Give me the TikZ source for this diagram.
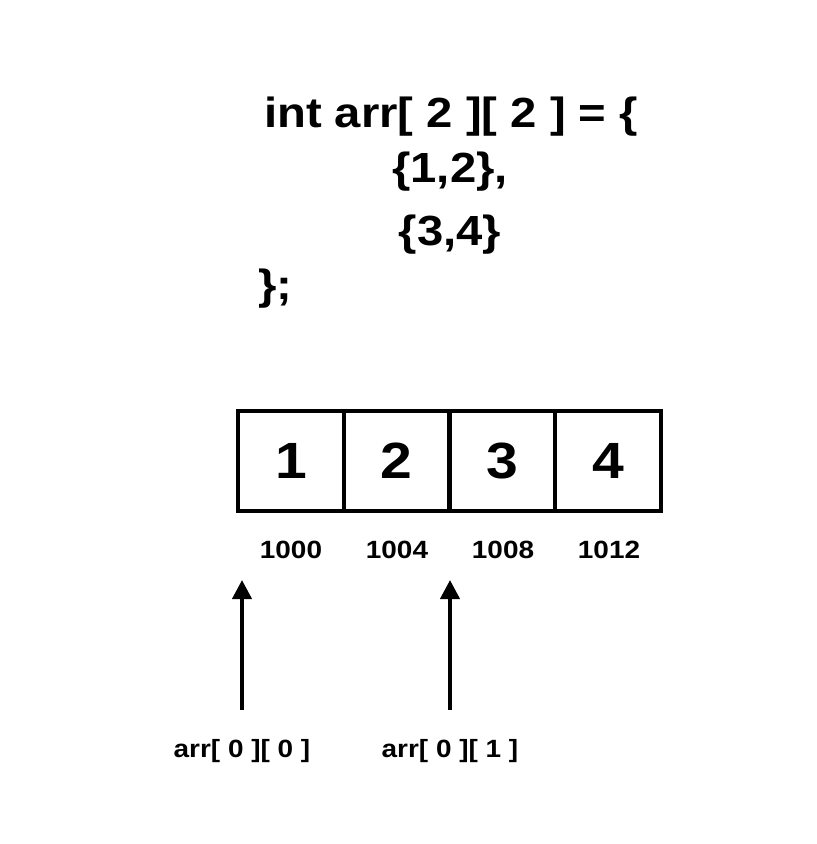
\documentclass[tikz,border=0pt]{standalone}
\usepackage{fontspec}
\newfontfamily\diagfont[FakeStretch=1.12]{Liberation Sans}
\usetikzlibrary{arrows.meta}

\begin{document}
\begin{tikzpicture}[
    x=0.02cm, y=-0.02cm,
    code/.style={font=\diagfont\bfseries\fontsize{24}{28}\selectfont, inner sep=0pt, anchor=base},
    cell/.style={draw, line width=0.08cm, minimum width=2.115cm, minimum height=2cm, inner sep=0pt, font=\diagfont\bfseries\fontsize{29}{34}\selectfont},
    addr/.style={font=\diagfont\bfseries\fontsize{14.2}{17}\selectfont, inner sep=0pt, anchor=base},
    lbl/.style={font=\diagfont\bfseries\fontsize{14.2}{17}\selectfont, inner sep=0pt, anchor=base},
    ptr/.style={-{Triangle[length=0.38cm, width=0.38cm]}, line width=0.08cm, shorten <=0.58cm}
]
\useasboundingbox (0,0) rectangle (816,844);

% declaration
\node[code] (decl) at (451,128) {int arr[ 2 ][ 2 ] = \{};
\node[code] (row0) at (450,183) {\{1,2\},};
\node[code] (row1) at (450,246) {\{3,4\}};
\node[code, anchor=base west] (close) at (258,299) {\};};

% memory
\node[cell] (c1) at (290.9,461) {1};
\node[cell] (c2) at (396.6,461) {2};
\node[cell] (c3) at (502.4,461) {3};
\node[cell] (c4) at (608.1,461) {4};

\node[addr] (a1) at (291,558) {1000};
\node[addr] (a2) at (397,558) {1004};
\node[addr] (a3) at (503,558) {1008};
\node[addr] (a4) at (609,558) {1012};

% pointers
\node[lbl] (l00) at (242,757) {arr[ 0 ][ 0 ]};
\node[lbl] (l01) at (450,757) {arr[ 0 ][ 1 ]};
\coordinate (p00) at (242,580);
\coordinate (p01) at (450,580);
\draw[ptr] (l00.north) -- (p00);
\draw[ptr] (l01.north) -- (p01);
\end{tikzpicture}
\end{document}
